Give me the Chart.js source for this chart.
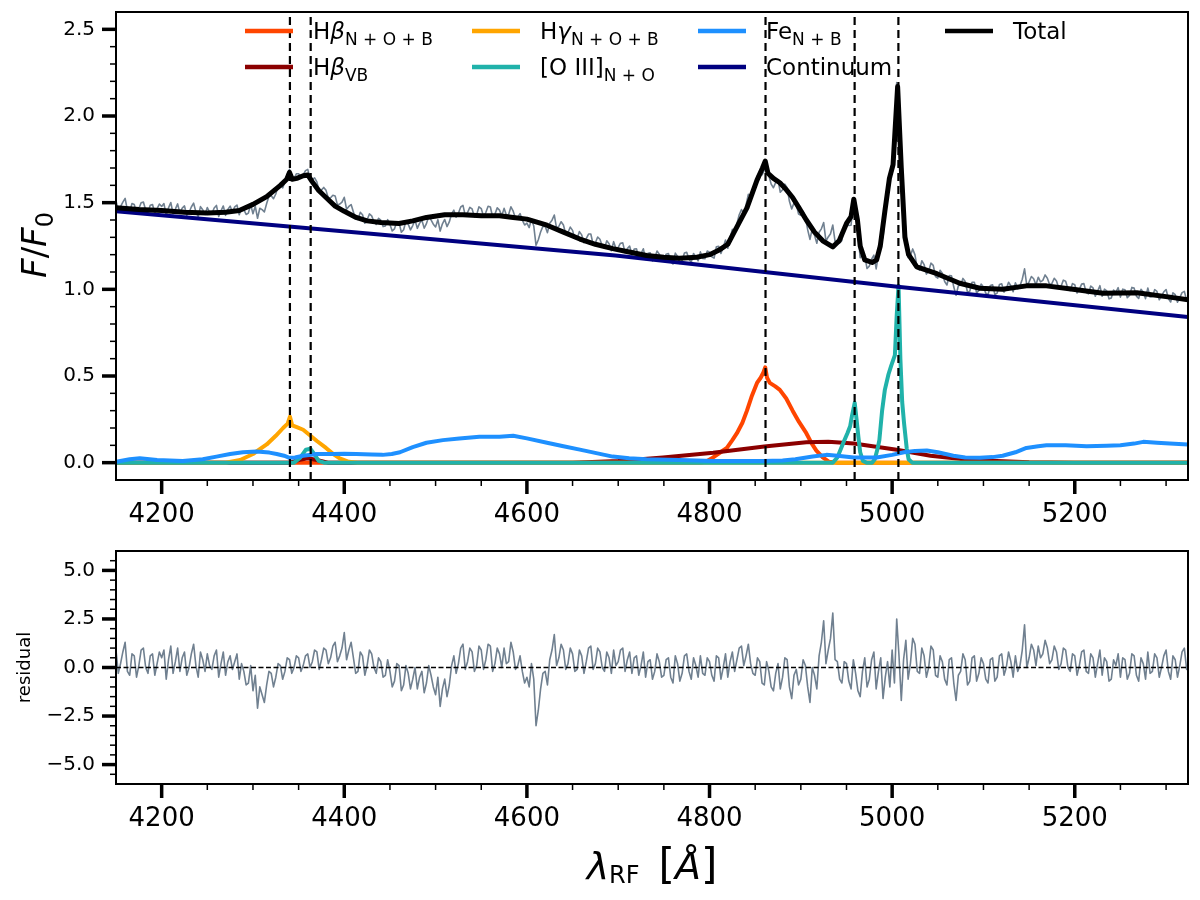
<!DOCTYPE html>
<html>
<head>
<meta charset="utf-8">
<title>Spectral decomposition</title>
<script src="https://cdn.jsdelivr.net/npm/chart.js@4.4.1/dist/chart.umd.min.js"></script>
<style>
  body { margin: 0; background: #fff; }
  canvas { position: absolute; left: 0; }
  #main { top: 0; }
  #resid { top: 530px; }
</style>
</head>
<body>
<canvas id="main" width="1200" height="530"></canvas>
<canvas id="resid" width="1200" height="370"></canvas>
<script>
// observed spectrum and residuals, sampled every 2.5 A from 4150 A
const obsStart = 4150;
const obsStep = 2.5;
const obsFlux = [
  1.510, 1.455, 1.477, 1.503, 1.525, 1.456, 1.446, 1.495, 1.489, 1.438, 1.465, 1.500, 1.504, 1.458, 1.444, 1.485, 1.489, 1.439, 1.465, 1.492,
  1.478, 1.495, 1.426, 1.470, 1.501, 1.436, 1.463, 1.493, 1.438, 1.469, 1.481, 1.427, 1.444, 1.475, 1.497, 1.447, 1.419, 1.477, 1.459, 1.432,
  1.472, 1.446, 1.436, 1.469, 1.484, 1.420, 1.453, 1.481, 1.427, 1.461, 1.480, 1.445, 1.476, 1.486, 1.430, 1.470, 1.460, 1.432, 1.440, 1.489,
  1.436, 1.480, 1.410, 1.468, 1.460, 1.447, 1.495, 1.537, 1.540, 1.523, 1.550, 1.598, 1.605, 1.585, 1.620, 1.663, 1.693, 1.641, 1.637, 1.667,
  1.667, 1.641, 1.660, 1.685, 1.692, 1.640, 1.634, 1.643, 1.620, 1.565, 1.573, 1.588, 1.571, 1.527, 1.528, 1.543, 1.539, 1.487, 1.492, 1.503,
  1.531, 1.462, 1.478, 1.489, 1.446, 1.404, 1.403, 1.444, 1.430, 1.381, 1.400, 1.435, 1.424, 1.390, 1.374, 1.410, 1.399, 1.362, 1.366, 1.402,
  1.374, 1.337, 1.349, 1.390, 1.385, 1.329, 1.344, 1.393, 1.376, 1.343, 1.368, 1.399, 1.352, 1.382, 1.399, 1.353, 1.379, 1.422, 1.401, 1.376,
  1.360, 1.402, 1.336, 1.378, 1.403, 1.362, 1.389, 1.435, 1.457, 1.416, 1.439, 1.475, 1.484, 1.425, 1.443, 1.473, 1.464, 1.418, 1.431, 1.476,
  1.466, 1.420, 1.443, 1.479, 1.475, 1.416, 1.434, 1.470, 1.457, 1.424, 1.467, 1.429, 1.432, 1.476, 1.451, 1.409, 1.417, 1.437, 1.399, 1.371,
  1.382, 1.356, 1.406, 1.366, 1.254, 1.286, 1.331, 1.363, 1.364, 1.327, 1.381, 1.399, 1.429, 1.352, 1.364, 1.390, 1.371, 1.320, 1.328, 1.359,
  1.340, 1.294, 1.292, 1.333, 1.314, 1.269, 1.292, 1.319, 1.319, 1.260, 1.269, 1.302, 1.289, 1.250, 1.238, 1.280, 1.263, 1.223, 1.275, 1.236,
  1.242, 1.266, 1.268, 1.211, 1.235, 1.250, 1.198, 1.232, 1.234, 1.186, 1.206, 1.234, 1.173, 1.208, 1.211, 1.164, 1.181, 1.221, 1.202, 1.164,
  1.167, 1.203, 1.207, 1.160, 1.146, 1.209, 1.190, 1.149, 1.167, 1.209, 1.214, 1.174, 1.156, 1.207, 1.190, 1.164, 1.216, 1.178, 1.177, 1.221,
  1.214, 1.188, 1.180, 1.246, 1.248, 1.207, 1.243, 1.284, 1.237, 1.299, 1.346, 1.326, 1.378, 1.430, 1.460, 1.440, 1.487, 1.548, 1.537, 1.551,
  1.583, 1.656, 1.679, 1.660, 1.686, 1.714, 1.656, 1.607, 1.586, 1.617, 1.631, 1.560, 1.575, 1.607, 1.587, 1.508, 1.464, 1.498, 1.491, 1.434,
  1.427, 1.450, 1.414, 1.344, 1.288, 1.350, 1.312, 1.266, 1.329, 1.349, 1.385, 1.278, 1.302, 1.321, 1.371, 1.275, 1.284, 1.267, 1.282, 1.363,
  1.389, 1.368, 1.370, 1.518, 1.446, 1.326, 1.182, 1.201, 1.193, 1.120, 1.134, 1.174, 1.197, 1.118, 1.201, 1.293, 1.298, 1.447, 1.578, 1.605,
  1.741, 1.814, 2.193, 2.077, 1.623, 1.468, 1.338, 1.183, 1.194, 1.233, 1.199, 1.121, 1.111, 1.165, 1.143, 1.088, 1.106, 1.151, 1.138, 1.074,
  1.065, 1.110, 1.091, 1.045, 1.025, 1.079, 1.078, 1.013, 0.966, 1.021, 1.025, 1.063, 1.045, 0.983, 0.989, 1.041, 1.041, 0.979, 0.994, 1.030,
  1.014, 0.978, 0.968, 1.022, 1.026, 0.970, 0.978, 1.028, 1.032, 0.984, 1.003, 1.041, 1.021, 0.986, 1.038, 1.004, 1.020, 1.058, 1.118, 1.020,
  1.043, 1.074, 1.061, 1.025, 1.070, 1.043, 1.052, 1.083, 1.064, 1.027, 1.034, 1.064, 1.048, 1.006, 1.018, 1.053, 1.047, 1.004, 0.993, 1.033,
  1.026, 0.979, 1.000, 1.030, 1.033, 0.981, 0.974, 1.019, 1.008, 0.960, 0.990, 1.021, 0.960, 1.001, 0.991, 0.945, 0.950, 0.996, 0.983, 1.010,
  0.955, 1.001, 0.997, 0.952, 0.965, 1.011, 1.007, 0.961, 0.947, 1.000, 0.984, 0.946, 1.008, 0.956, 0.959, 0.998, 0.988, 0.940, 0.961, 0.986,
  0.999, 0.947, 0.927, 0.980, 0.969, 0.926, 0.952, 0.981, 0.988, 0.936
];
const residual = [
  0.9, -0.3, 0.2, 0.8, 1.3, -0.2, -0.4, 0.7, 0.6, -0.5, 0.1, 0.9, 1.0, 0.0, -0.3, 0.6, 0.7, -0.4, 0.2, 0.8,
  0.5, 0.9, -0.6, 0.4, 1.1, -0.3, 0.3, 1.0, -0.2, 0.5, 0.8, -0.4, 0.0, 0.7, 1.2, 0.1, -0.5, 0.8, 0.4, -0.2,
  0.7, 0.1, -0.1, 0.6, 0.9, -0.5, 0.2, 0.8, -0.4, 0.3, 0.6, -0.1, 0.3, 0.7, -0.6, 0.2, -0.2, -0.9, -0.8, 0.1,
  -1.2, -0.4, -2.1, -1.0, -1.4, -1.8, -0.9, -0.2, -0.3, -1.0, -0.5, 0.2, 0.1, -0.6, -0.2, 0.5, 0.4, -0.3, 0.0, 0.6,
  0.5, -0.2, 0.1, 0.6, 0.7, 0.0, 0.3, 0.9, 0.8, -0.1, 0.4, 1.0, 0.9, 0.2, 0.5, 1.1, 1.3, 0.3, 0.6, 1.0,
  1.8, 0.4, 0.9, 1.3, 0.5, -0.3, -0.2, 0.8, 0.6, -0.4, 0.1, 0.9, 0.7, 0.0, -0.3, 0.5, 0.3, -0.5, -0.4, 0.4,
  -0.2, -1.0, -0.7, 0.2, 0.1, -1.2, -0.9, 0.1, -0.3, -1.1, -0.6, 0.0, -1.1, -0.5, -0.2, -1.3, -0.8, 0.1, -0.4, -1.0,
  -1.4, -0.5, -2.0, -1.1, -0.6, -1.5, -0.9, 0.1, 0.6, -0.3, 0.2, 1.0, 1.2, -0.1, 0.3, 1.0, 0.8, -0.2, 0.1, 1.1,
  0.9, -0.1, 0.4, 1.2, 1.1, -0.2, 0.2, 1.0, 0.7, 0.0, 1.0, 0.2, 0.3, 1.3, 0.8, -0.1, 0.1, 0.6, -0.2, -0.8,
  -0.5, -1.0, 0.2, -0.6, -3.0, -2.2, -1.1, -0.3, -0.2, -0.9, 0.4, 0.9, 1.7, 0.1, 0.5, 1.2, 0.9, -0.1, 0.2, 1.0,
  0.7, -0.2, -0.1, 0.9, 0.6, -0.3, 0.3, 1.0, 1.1, -0.1, 0.2, 1.0, 0.8, 0.0, -0.2, 0.8, 0.5, -0.3, 0.9, 0.1,
  0.3, 0.9, 1.0, -0.2, 0.4, 0.8, -0.3, 0.5, 0.6, -0.4, 0.1, 0.8, -0.5, 0.3, 0.4, -0.6, -0.2, 0.7, 0.3, -0.5,
  -0.4, 0.4, 0.5, -0.5, -0.8, 0.6, 0.2, -0.7, -0.3, 0.6, 0.7, -0.2, -0.6, 0.5, 0.1, -0.5, 0.6, -0.3, -0.4, 0.5,
  0.3, -0.4, -0.7, 0.6, 0.5, -0.6, 0.0, 0.7, -0.5, 0.3, 0.8, -0.2, 0.4, 1.0, 1.1, 0.1, 0.6, 1.2, 0.2, -0.3,
  -0.4, 0.5, 0.3, -0.8, -0.9, 0.3, -0.2, -1.0, -1.2, -0.3, 0.2, -1.1, -0.5, 0.5, 0.4, -1.0, -1.6, -0.4, -0.1, -0.9,
  -0.6, 0.4, 0.1, -1.0, -1.8, 0.0, -0.4, -1.1, 0.6, 1.3, 2.4, 0.2, 0.9, 1.5, 2.8, 0.4, 0.3, -0.6, -0.8, 0.3,
  0.2, -0.7, -1.1, 0.4, -0.3, -1.2, -1.5, -0.2, 0.5, -1.0, -0.6, 0.4, 0.8, -1.1, -0.2, 0.5, -1.6, -0.5, 0.3, -1.0,
  0.9, -0.8, 2.5, 0.6, -1.7, 0.4, 1.4, -0.6, 0.2, 1.5, 1.2, -0.2, -0.3, 1.0, 0.6, -0.5, 0.0, 1.1, 0.9, -0.4,
  -0.5, 0.6, 0.3, -0.6, -0.9, 0.4, 0.5, -0.8, -1.7, -0.4, -0.2, 0.7, 0.4, -0.9, -0.7, 0.5, 0.6, -0.7, -0.3, 0.5,
  0.2, -0.6, -0.8, 0.4, 0.5, -0.7, -0.5, 0.6, 0.7, -0.4, 0.0, 0.8, 0.3, -0.5, 0.6, -0.2, 0.1, 0.9, 2.2, 0.0,
  0.5, 1.2, 0.9, 0.1, 1.1, 0.5, 0.7, 1.4, 1.0, 0.2, 0.4, 1.1, 0.8, -0.1, 0.2, 1.0, 0.9, 0.0, -0.2, 0.7,
  0.6, -0.4, 0.1, 0.8, 0.9, -0.2, -0.3, 0.7, 0.5, -0.5, 0.2, 0.9, -0.4, 0.5, 0.3, -0.7, -0.6, 0.4, 0.1, 0.7,
  -0.5, 0.5, 0.4, -0.6, -0.3, 0.7, 0.6, -0.4, -0.7, 0.5, 0.2, -0.6, 0.8, -0.3, -0.2, 0.7, 0.5, -0.5, 0.0, 0.6,
  0.9, -0.2, -0.6, 0.6, 0.4, -0.5, 0.1, 0.8, 1.0, -0.1
];

// fitted model: total and components
const totalWave = [4150, 4175, 4200, 4225, 4250, 4270, 4285, 4300, 4315, 4330, 4337, 4340, 4343, 4348, 4355,
  4360, 4365, 4372, 4380, 4390, 4400, 4413, 4425, 4440, 4460, 4475, 4490, 4510, 4530, 4550,
  4570, 4585, 4600, 4622, 4640, 4658, 4675, 4694, 4712, 4731, 4750, 4767, 4786, 4800, 4810,
  4820, 4830, 4841, 4852, 4858, 4861, 4864, 4870, 4877, 4884, 4891, 4898, 4906, 4915, 4924,
  4935, 4942, 4950, 4955, 4958, 4962, 4965, 4970, 4978, 4983, 4987, 4992, 4997, 5001, 5006,
  5010, 5014, 5018, 5027, 5049, 5074, 5096, 5121, 5147, 5169, 5198, 5231, 5268, 5304, 5324];
const totalFlux = [1.47, 1.46, 1.455, 1.445, 1.44, 1.445, 1.455, 1.49, 1.535, 1.60, 1.635, 1.675, 1.635, 1.64, 1.655,
  1.66, 1.62, 1.57, 1.53, 1.48, 1.45, 1.415, 1.395, 1.385, 1.38, 1.395, 1.415, 1.43, 1.43, 1.425,
  1.425, 1.415, 1.405, 1.37, 1.33, 1.29, 1.26, 1.235, 1.215, 1.195, 1.185, 1.18, 1.185, 1.2, 1.225,
  1.26, 1.36, 1.47, 1.63, 1.70, 1.74, 1.67, 1.64, 1.615, 1.575, 1.53, 1.47, 1.40, 1.33, 1.28,
  1.245, 1.28, 1.38, 1.42, 1.52, 1.40, 1.25, 1.17, 1.155, 1.17, 1.25, 1.45, 1.64, 1.72, 2.17,
  1.70, 1.30, 1.20, 1.13, 1.09, 1.035, 1.006, 1.0, 1.02, 1.02, 1.0, 0.977, 0.98, 0.955, 0.94];

const hbWave = [4150, 4790, 4796, 4804, 4812, 4819, 4825, 4830, 4836, 4841, 4846, 4852, 4856, 4859, 4861,
  4863, 4866, 4872, 4877, 4884, 4891, 4898, 4906, 4912, 4917, 4924, 4931, 4940, 5324];
const hbFlux = [0, 0, 0.005, 0.03, 0.06, 0.085, 0.13, 0.17, 0.23, 0.30, 0.38, 0.46, 0.49, 0.52, 0.55,
  0.49, 0.46, 0.44, 0.42, 0.37, 0.30, 0.235, 0.17, 0.11, 0.07, 0.03, 0.005, 0, 0];

const vbWave = [4150, 4340, 4350, 4360, 4370, 4382, 4650, 4700, 4749, 4804, 4860, 4906, 4930, 4958, 5005,
  5042, 5086, 5150, 5200, 5324];
const vbFlux = [0, 0, 0.015, 0.025, 0.015, 0, 0, 0.01, 0.03, 0.057, 0.093, 0.118, 0.121, 0.11, 0.075,
  0.04, 0.015, 0.003, 0, 0];

const hgWave = [4150, 4270, 4286, 4300, 4315, 4325, 4333, 4338, 4340.5, 4343, 4348, 4355, 4362, 4370, 4380,
  4388, 4395, 4405, 4415, 5324];
const hgFlux = [0, 0, 0.015, 0.05, 0.105, 0.155, 0.2, 0.225, 0.265, 0.215, 0.205, 0.19, 0.16, 0.125, 0.085,
  0.05, 0.025, 0.005, 0, 0];

const o3Wave = [4150, 4345, 4352, 4358, 4363, 4367, 4372, 4378, 4935, 4940, 4947, 4951, 4954, 4956, 4959,
  4961, 4963, 4965, 4968, 4972, 4978, 4981, 4984, 4986, 4989, 4992, 4996, 4999, 5003, 5005,
  5007, 5009, 5011, 5013, 5016, 5018, 5022, 5324];
const o3Flux = [0, 0, 0.03, 0.075, 0.08, 0.05, 0.01, 0, 0, 0.03, 0.12, 0.17, 0.21, 0.27, 0.345,
  0.25, 0.15, 0.06, 0.01, 0, 0, 0.02, 0.08, 0.13, 0.30, 0.42, 0.51, 0.56, 0.62, 0.85,
  1.02, 0.6, 0.35, 0.23, 0.08, 0.02, 0, 0];

const feWave = [4150, 4165, 4176, 4195, 4223, 4245, 4260, 4275, 4289, 4304, 4318, 4326, 4334, 4340, 4346,
  4355, 4370, 4387, 4400, 4413, 4430, 4442, 4452, 4461, 4475, 4490, 4508, 4526, 4548, 4570,
  4585, 4600, 4622, 4640, 4658, 4676, 4694, 4712, 4731, 4767, 4804, 4858, 4880, 4894, 4913,
  4928, 4940, 4958, 4983, 5000, 5013, 5025, 5038, 5050, 5067, 5080, 5096, 5110, 5121, 5135,
  5147, 5160, 5169, 5190, 5213, 5235, 5250, 5265, 5275, 5290, 5304, 5324];
const feFlux = [0.005, 0.02, 0.025, 0.015, 0.01, 0.02, 0.035, 0.05, 0.06, 0.065, 0.058, 0.05, 0.04, 0.028, 0.03,
  0.04, 0.05, 0.05, 0.052, 0.05, 0.047, 0.045, 0.05, 0.06, 0.09, 0.115, 0.13, 0.14, 0.15, 0.15,
  0.155, 0.14, 0.115, 0.095, 0.075, 0.055, 0.035, 0.025, 0.02, 0.015, 0.01, 0.01, 0.013, 0.02, 0.035,
  0.045, 0.04, 0.03, 0.03, 0.045, 0.06, 0.068, 0.07, 0.06, 0.04, 0.03, 0.028, 0.032, 0.04, 0.06,
  0.085, 0.095, 0.10, 0.10, 0.095, 0.098, 0.10, 0.11, 0.12, 0.115, 0.11, 0.105];

const contWave = [4150, 4420, 4697, 5006, 5324];
const contFlux = [1.45, 1.325, 1.195, 1.015, 0.84];

// rest-frame line centres (dashed markers)
const lineCenters = [4340.47, 4363.21, 4861.33, 4958.91, 5006.84];

// axes
const waveMin = 4150, waveMax = 5324;
const waveTicks = [4200, 4400, 4600, 4800, 5000, 5200];
const fluxTicks = [0, 0.5, 1.0, 1.5, 2.0, 2.5];
const residTicks = [-5, -2.5, 0, 2.5, 5];

// legend: runs of [text, style] ('' roman, 'i' italic, 's' subscript)
const seriesLabels = [
  [['H', ''], ['β', 'i'], ['N + O + B', 's']],
  [['H', ''], ['β', 'i'], ['VB', 's']],
  [['H', ''], ['γ', 'i'], ['N + O + B', 's']],
  [['[O III]', ''], ['N + O', 's']],
  [['Fe', ''], ['N + B', 's']],
  [['Continuum', '']],
  [['Total', '']]
];
const seriesColors = ['#ff4500', '#8b0000', '#ffa500', '#20b2aa', '#1e90ff', '#000080', '#000000'];
const dataColor = '#708090';

const FONT = "'DejaVu Sans', sans-serif";
Chart.defaults.font.family = FONT;
Chart.defaults.color = '#000';

function pts(xs, ys) {
  return xs.map((x, i) => ({ x: x, y: ys[i] }));
}

// draw a list of [text, size, italic, dy] runs, return end x
function drawRuns(ctx, runs, x, y, measureOnly) {
  for (const r of runs) {
    ctx.font = (r[2] ? 'italic ' : '') + r[1] + 'px ' + FONT;
    if (!measureOnly) ctx.fillText(r[0], x, y + (r[3] || 0));
    x += ctx.measureText(r[0]).width;
  }
  return x;
}

function legendRuns(label, size) {
  return label.map(([t, st]) => st === 's'
    ? [t, Math.round(size * 0.72), false, size * 0.24]
    : [t, size, st === 'i', 0]);
}

function axisDecor(minorX, minorY) {
  return {
    id: 'axisDecor',
    afterDraw(chart) {
      const { ctx, chartArea: a } = chart;
      const sx = chart.scales.x, sy = chart.scales.y;
      ctx.save();
      ctx.strokeStyle = '#000';
      ctx.lineCap = 'butt';
      const tick = (px, py, dx, dy, w) => {
        ctx.lineWidth = w;
        ctx.beginPath();
        ctx.moveTo(px, py);
        ctx.lineTo(px + dx, py + dy);
        ctx.stroke();
      };
      for (let k = Math.ceil(sx.min / minorX - 1e-9); k * minorX <= sx.max + 1e-9; k++) {
        const px = sx.getPixelForValue(k * minorX);
        if (px > a.left + 1 && px < a.right - 1) tick(px, a.bottom, 0, 6, 1.5);
      }
      for (let k = Math.ceil(sy.min / minorY - 1e-9); k * minorY <= sy.max + 1e-9; k++) {
        const py = sy.getPixelForValue(k * minorY);
        if (py > a.top + 1 && py < a.bottom - 1) tick(a.left, py, -6, 0, 1.5);
      }
      sx.ticks.forEach(t => tick(sx.getPixelForValue(t.value), a.bottom, 0, 14, 3.5));
      sy.ticks.forEach(t => tick(a.left, sy.getPixelForValue(t.value), -14, 0, 3.5));
      ctx.lineWidth = 2;
      ctx.strokeRect(a.left, a.top, a.right - a.left, a.bottom - a.top);
      ctx.restore();
    }
  };
}

const lineMarkers = {
  id: 'lineMarkers',
  afterDatasetsDraw(chart) {
    const { ctx, chartArea: a } = chart;
    const sx = chart.scales.x;
    ctx.save();
    ctx.strokeStyle = '#000';
    ctx.lineWidth = 2.2;
    ctx.setLineDash([8, 5]);
    lineCenters.forEach(c => {
      const px = sx.getPixelForValue(c);
      ctx.beginPath();
      ctx.moveTo(px, a.bottom);
      ctx.lineTo(px, a.top);
      ctx.stroke();
    });
    ctx.restore();
  }
};

const fitLegend = {
  id: 'fitLegend',
  afterDraw(chart) {
    const ctx = chart.ctx;
    const colX = [245, 472, 698, 945];
    ctx.save();
    ctx.fillStyle = '#000';
    ctx.textBaseline = 'alphabetic';
    seriesLabels.forEach((label, i) => {
      const x0 = colX[Math.floor(i / 2)];
      const y0 = 31 + (i % 2) * 36;
      ctx.strokeStyle = seriesColors[i];
      ctx.lineWidth = 4.5;
      ctx.beginPath();
      ctx.moveTo(x0, y0);
      ctx.lineTo(x0 + 48, y0);
      ctx.stroke();
      drawRuns(ctx, legendRuns(label, 23), x0 + 68, y0 + 8);
    });
    // y title F/F0
    const runs = [['F', 34, true], ['/', 34, false], ['F', 34, true], ['0', 24, false, 7]];
    ctx.translate(34, 245);
    ctx.rotate(-Math.PI / 2);
    const w = drawRuns(ctx, runs, 0, 0, true);
    drawRuns(ctx, runs, -w / 2, 12);
    ctx.restore();
  }
};

const residExtras = {
  id: 'residExtras',
  afterDatasetsDraw(chart) {
    const { ctx, chartArea: a } = chart;
    const py = chart.scales.y.getPixelForValue(0);
    ctx.save();
    ctx.strokeStyle = '#000';
    ctx.lineWidth = 1.3;
    ctx.setLineDash([5, 2.5]);
    ctx.beginPath();
    ctx.moveTo(a.left, py);
    ctx.lineTo(a.right, py);
    ctx.stroke();
    ctx.restore();
  },
  afterDraw(chart) {
    const { ctx, chartArea: a } = chart;
    ctx.save();
    ctx.fillStyle = '#000';
    // x title
    const runs = [['λ', 38, true], ['RF', 24, false, 4], ['\u2002', 38, false], ['[', 42, false],
      ['Å', 38, true], [']', 42, false]];
    const w = drawRuns(ctx, runs, 0, 0, true);
    drawRuns(ctx, runs, (a.left + a.right) / 2 - w / 2, 349);
    // y title
    ctx.translate(24, (a.top + a.bottom) / 2);
    ctx.rotate(-Math.PI / 2);
    ctx.font = '18px ' + FONT;
    ctx.textAlign = 'center';
    ctx.fillText('residual', 0, 6);
    ctx.restore();
  }
};

function fmtY(v) {
  return v.toFixed(1).replace('-', '\u2212');
}

function scalesFor(yMin, yMax, yTicks, xHeight) {
  return {
    x: {
      type: 'linear', min: waveMin, max: waveMax,
      grid: { display: false, drawTicks: false },
      border: { display: false },
      afterBuildTicks: s => { s.ticks = waveTicks.map(v => ({ value: v })); },
      afterFit: s => { s.height = xHeight; s.paddingLeft = 0; s.paddingRight = 0; },
      ticks: { autoSkip: false, maxRotation: 0, minRotation: 0, padding: 20, color: '#000',
        font: { size: 26 }, callback: v => String(v) }
    },
    y: {
      min: yMin, max: yMax,
      grid: { display: false, drawTicks: false },
      border: { display: false },
      afterBuildTicks: s => { s.ticks = yTicks.map(v => ({ value: v })); },
      afterFit: s => { s.width = 116; s.paddingTop = 0; s.paddingBottom = 0; },
      ticks: { autoSkip: false, padding: 21, color: '#000', font: { size: 20 }, callback: fmtY }
    }
  };
}

function line(data, color, width, order) {
  return {
    data: data, borderColor: color, borderWidth: width, order: order,
    pointRadius: 0, fill: false, tension: 0,
    borderJoinStyle: 'round', borderCapStyle: 'round'
  };
}

const obsPoints = obsFlux.map((v, i) => ({ x: obsStart + i * obsStep, y: v }));
const residPoints = residual.map((v, i) => ({ x: obsStart + i * obsStep, y: v }));

new Chart(document.getElementById('main'), {
  type: 'line',
  data: {
    datasets: [
      line(pts(totalWave, totalFlux), seriesColors[6], 5, 1),
      line(pts(contWave, contFlux), seriesColors[5], 4, 2),
      line(pts(feWave, feFlux), seriesColors[4], 4, 3),
      line(pts(o3Wave, o3Flux), seriesColors[3], 4, 4),
      line(pts(hgWave, hgFlux), seriesColors[2], 4, 5),
      line(pts(vbWave, vbFlux), seriesColors[1], 4, 6),
      line(pts(hbWave, hbFlux), seriesColors[0], 4, 7),
      line(obsPoints, dataColor, 1.6, 8)
    ]
  },
  options: {
    responsive: false,
    animation: false,
    events: [],
    layout: { padding: { top: 12, right: 12, left: 0, bottom: 0 } },
    plugins: { legend: { display: false }, tooltip: { enabled: false } },
    scales: scalesFor(-0.1, 2.6, fluxTicks, 50)
  },
  plugins: [lineMarkers, axisDecor(50, 0.1), fitLegend]
});

new Chart(document.getElementById('resid'), {
  type: 'line',
  data: { datasets: [line(residPoints, dataColor, 1.6, 1)] },
  options: {
    responsive: false,
    animation: false,
    events: [],
    layout: { padding: { top: 21, right: 12, left: 0, bottom: 0 } },
    plugins: { legend: { display: false }, tooltip: { enabled: false } },
    scales: scalesFor(-6, 6, residTicks, 116)
  },
  plugins: [residExtras, axisDecor(50, 0.5)]
});
</script>
</body>
</html>
